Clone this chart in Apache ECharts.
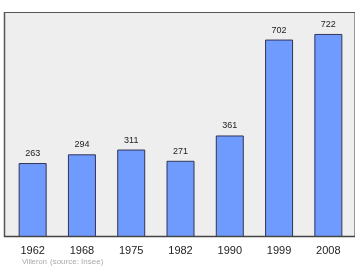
<!DOCTYPE html>
<html><head><meta charset="utf-8">
<script src="https://cdn.jsdelivr.net/npm/echarts@6/dist/echarts.min.js"></script>
<style>html,body{margin:0;padding:0;background:#fff}#c{width:360px;height:270px}</style>
</head><body><div id="c"></div>
<script>
const categories = ['1962','1968','1975','1982','1990','1999','2008'];
const population = [263, 294, 311, 271, 361, 702, 722];
const placeName = 'Villeron';
const sourceText = '(source: Insee)';

const FONT = '"Liberation Sans", Arial, sans-serif';
const chart = echarts.init(document.getElementById('c'), null, {renderer:'canvas'});
chart.setOption({
  animation:false,
  backgroundColor:'#ffffff',
  graphic:[
    {type:'rect', z:-10, shape:{x:4,y:12,width:351,height:225}, style:{fill:'#eeeeee', stroke:null}},
    {type:'line', z:10, shape:{x1:354.5,y1:12,x2:354.5,y2:237}, style:{stroke:'#999999', lineWidth:1}},
    {type:'line', z:10, shape:{x1:4,y1:12.5,x2:355,y2:12.5}, style:{stroke:'#555555', lineWidth:1}},
    {type:'line', z:10, shape:{x1:4.5,y1:12,x2:4.5,y2:237}, style:{stroke:'#555555', lineWidth:1.5}},
    {type:'line', z:10, shape:{x1:4,y1:236.5,x2:355,y2:236.5}, style:{stroke:'#444444', lineWidth:1.5}},
    {type:'text', left:22, top:258, style:{text:placeName, fill:'#aaaaaa', fontSize:7.5, fontFamily:FONT}},
    {type:'text', left:50, top:258, style:{text:sourceText, fill:'#aaaaaa', fontSize:8, fontFamily:FONT}}
  ],
  grid:{left:8, right:7, top:12, bottom:33, containLabel:false},
  xAxis:{
    type:'category', data:categories,
    axisLine:{show:false}, axisTick:{show:false},
    axisLabel:{fontSize:11, color:'#222222', margin:8, fontFamily:FONT}
  },
  yAxis:{
    type:'value', min:0, max:800,
    show:false, splitLine:{show:false}
  },
  series:[
    {type:'bar', data:population, barWidth:28,
     itemStyle:{color:'#6f9bff', borderColor:'#333355', borderWidth:1},
     label:{show:true, position:'top', distance:5, fontSize:9, color:'#222222', fontFamily:FONT}
    }
  ]
});
</script></body></html>
